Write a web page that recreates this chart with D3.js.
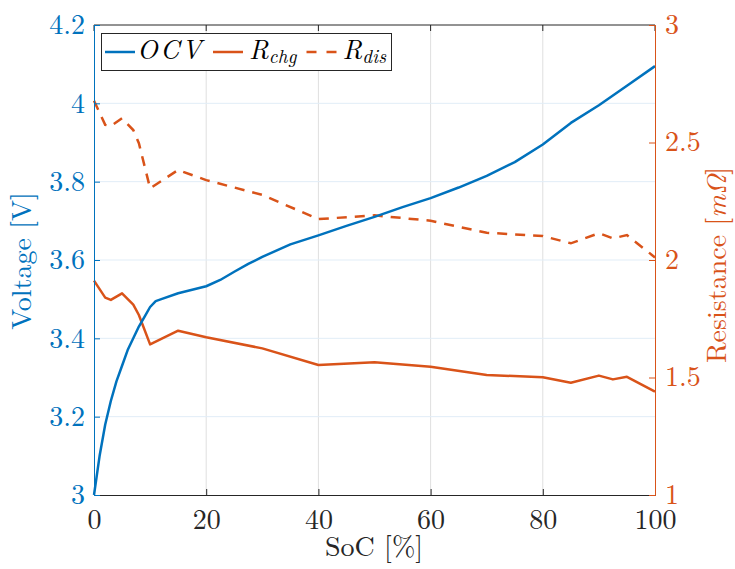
<!DOCTYPE html>
<html><head><meta charset="utf-8">
<script src="https://cdn.jsdelivr.net/npm/d3@7"></script>
<style>body{margin:0;background:#fff}svg{display:block}</style>
</head><body><svg id="c" width="735" height="569"></svg>
<script>
// ---- data ----
const ocvSoC = [0,1,2,3,4,5,6,7,8,9,10,11,12,15,20,22.5,25,27.5,30,35,40,45,50,55,60,65,70,75,80,85,90,95,100];
const ocvV   = [3.0,3.10,3.18,3.24,3.29,3.33,3.37,3.40,3.43,3.455,3.48,3.495,3.50,3.515,3.533,3.549,3.57,3.59,3.608,3.64,3.663,3.687,3.71,3.735,3.758,3.785,3.815,3.85,3.895,3.95,3.995,4.045,4.095];
const rSoC   = [0,2,3,5,7,8,10,15,20,30,40,50,60,70,80,85,90,92.5,95,100];
const rChg   = [1.912,1.84,1.83,1.858,1.81,1.766,1.641,1.699,1.671,1.624,1.553,1.565,1.546,1.511,1.501,1.478,1.508,1.492,1.503,1.44];
const rDis   = [2.678,2.575,2.57,2.603,2.553,2.497,2.305,2.383,2.34,2.277,2.174,2.19,2.167,2.116,2.102,2.071,2.114,2.092,2.106,2.011];
const xTicks = [0,20,40,60,80,100];
const yLTicks = [3,3.2,3.4,3.6,3.8,4,4.2];
const yRTicks = [1,1.5,2,2.5,3];

const FONT = "'Latin Modern Roman'";
const BLUE="#0072BD", ORANGE="#D95319";
const L=94,R=655,T=25,B=495;
const svg=d3.select("#c");
const x=d3.scaleLinear().domain([0,100]).range([L,R]);
const yL=d3.scaleLinear().domain([3,4.2]).range([B,T]);
const yR=d3.scaleLinear().domain([1,3]).range([B,T]);

// grid
svg.append("g").selectAll("line").data(xTicks.slice(1,-1)).join("line")
  .attr("x1",d=>x(d)).attr("x2",d=>x(d)).attr("y1",T).attr("y2",B)
  .attr("stroke","#dfdfdf").attr("stroke-width",1);
svg.append("g").selectAll("line").data(yLTicks.slice(1,-1)).join("line")
  .attr("x1",L).attr("x2",R).attr("y1",d=>yL(d)).attr("y2",d=>yL(d))
  .attr("stroke","#e1edf7").attr("stroke-width",1);

// lines
const lineOCV=d3.line().x((d,i)=>x(ocvSoC[i])).y(d=>yL(d));
const lineR=d3.line().x((d,i)=>x(rSoC[i])).y(d=>yR(d));
svg.append("path").attr("d",lineR(rChg)).attr("fill","none").attr("stroke",ORANGE).attr("stroke-width",2.5).attr("stroke-linejoin","round");
svg.append("path").attr("d",lineR(rDis)).attr("fill","none").attr("stroke",ORANGE).attr("stroke-width",2.5).attr("stroke-dasharray","10,8");
svg.append("path").attr("d",lineOCV(ocvV)).attr("fill","none").attr("stroke",BLUE).attr("stroke-width",2.5).attr("stroke-linejoin","round");

// axes frame
svg.append("line").attr("x1",L).attr("x2",R).attr("y1",T).attr("y2",T).attr("stroke","#262626").attr("stroke-width",1);
const xAx=d3.axisBottom(x).tickValues(xTicks).tickSize(-6).tickPadding(14).tickFormat(d3.format("d"));
const gx=svg.append("g").attr("transform",`translate(0,${B})`).call(xAx);
gx.attr("font-family",null).attr("font-size",null);
gx.select(".domain").attr("stroke","#262626");
gx.selectAll(".tick line").attr("stroke","#262626");
gx.selectAll("text").attr("fill","#262626").attr("font-size",28).attr("font-family",FONT);
// top ticks
svg.append("g").selectAll("line").data(xTicks).join("line")
  .attr("x1",d=>x(d)).attr("x2",d=>x(d)).attr("y1",T).attr("y2",T+6).attr("stroke","#262626");

const gl=svg.append("g").attr("transform",`translate(${L},0)`)
  .call(d3.axisLeft(yL).tickValues(yLTicks).tickSize(-6).tickPadding(9).tickFormat(d=>d3.format("")(d)));
gl.attr("font-family",null).attr("font-size",null);
gl.select(".domain").attr("stroke",BLUE);
gl.selectAll(".tick line").attr("stroke",BLUE);
gl.selectAll("text").attr("fill",BLUE).attr("font-size",28).attr("font-family",FONT);

const gr=svg.append("g").attr("transform",`translate(${R},0)`)
  .call(d3.axisRight(yR).tickValues(yRTicks).tickSize(-6).tickPadding(10).tickFormat(d=>d3.format("")(d)));
gr.attr("font-family",null).attr("font-size",null);
gr.select(".domain").attr("stroke",ORANGE);
gr.selectAll(".tick line").attr("stroke",ORANGE);
gr.selectAll("text").attr("fill",ORANGE).attr("font-size",28).attr("font-family",FONT).attr("dy","0.3em");

// axis labels
svg.append("text").attr("x",374).attr("y",556).attr("text-anchor","middle").attr("font-size",28).attr("font-family",FONT).attr("fill","#262626").text("SoC [%]");
svg.append("text").attr("transform",`translate(31,261) rotate(-90)`).attr("text-anchor","middle").attr("font-size",28).attr("font-family",FONT).attr("fill",BLUE).text("Voltage [V]");
const rl=svg.append("text").attr("transform",`translate(726,265) rotate(-90)`).attr("text-anchor","middle").attr("font-size",28).attr("font-family",FONT).attr("fill",ORANGE);
rl.append("tspan").text("Resistance [");
rl.append("tspan").attr("font-style","italic").text("mΩ");
rl.append("tspan").text("]");

// legend
const lg=svg.append("g");
lg.append("rect").attr("x",101.5).attr("y",33.5).attr("width",290).attr("height",37).attr("fill","#fff").attr("stroke","#262626").attr("stroke-width",1);
const ly=52;
const items=[{x0:105,tx:137,label:"OCV",ls:2.2,sub:null,dash:null,color:BLUE},
             {x0:213,tx:249,label:"R",ls:0,sub:"chg",dash:null,color:ORANGE},
             {x0:306.5,tx:342.5,label:"R",ls:0,sub:"dis",dash:"10,10",color:ORANGE}];
items.forEach(it=>{
  lg.append("line").attr("x1",it.x0).attr("x2",it.x0+30).attr("y1",ly).attr("y2",ly)
    .attr("stroke",it.color).attr("stroke-width",2.5).attr("stroke-dasharray",it.dash);
  const t=lg.append("text").attr("x",it.tx).attr("y",58.5).attr("font-size",27).attr("font-style","italic").attr("font-family",FONT).attr("fill","#000");
  t.append("tspan").attr("letter-spacing",it.ls).text(it.label);
  if(it.sub) t.append("tspan").attr("font-size",19).attr("dy",4).attr("letter-spacing",0.3).text(it.sub);
});
</script></body></html>
